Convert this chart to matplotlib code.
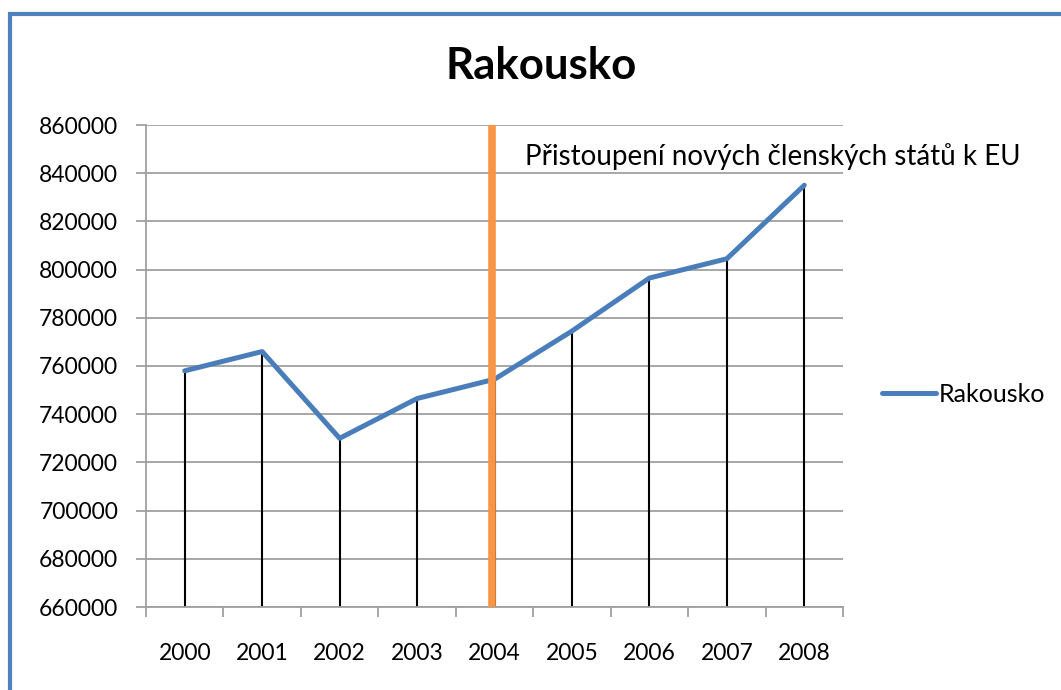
import matplotlib.pyplot as plt
from matplotlib.patches import Rectangle

# data
years = ["2000", "2001", "2002", "2003", "2004", "2005", "2006", "2007", "2008"]
values = [758000, 766000, 730000, 746500, 754500, 774500, 796500, 804500, 835000]
y_ticks = list(range(660000, 860001, 20000))
accession_year = "2004"
note = "Přistoupení nových členských států k EU"

plt.rcParams['font.family'] = ['Lato', 'DejaVu Sans']

blue = '#4A7EBB'
orange = '#F79646'
grid_gray = '#A0A0A0'

fig = plt.figure(figsize=(10.61, 6.90), dpi=100)
ax = fig.add_axes([146 / 1061, 83 / 690, 697 / 1061, 482 / 690])

xs = list(range(len(years)))

# drop lines from each point
ax.vlines(xs, y_ticks[0], values, color='black', linewidth=1.5, zorder=2)

# series line
line, = ax.plot(xs, values, color=blue, linewidth=3.6, solid_capstyle='round',
                solid_joinstyle='round', zorder=3, label="Rakousko")

# accession marker
xa = years.index(accession_year) - 0.03
ax.vlines(xa, y_ticks[0], y_ticks[-1], color=orange, linewidth=5.5, zorder=4)
ax.text(xa + 0.43, 847000, note, fontsize=20, ha='left', va='center', zorder=5)

ax.set_xlim(-0.5, len(years) - 0.5)
ax.set_ylim(y_ticks[0], y_ticks[-1])
ax.set_yticks(y_ticks)
ax.set_yticklabels([str(v) for v in y_ticks])
ax.set_xticks(xs)
ax.set_xticklabels(years)
ax.set_xticks([i - 0.5 for i in range(len(years) + 1)], minor=True)

ax.yaxis.grid(True, color=grid_gray, linewidth=1.3)
ax.set_axisbelow(True)
for s in ['top', 'right']:
    ax.spines[s].set_visible(False)
for s in ['left', 'bottom']:
    ax.spines[s].set_color(grid_gray)
    ax.spines[s].set_linewidth(1.3)

ax.tick_params(axis='y', length=7, width=1.3, color=grid_gray, pad=13, labelsize=16.5)
ax.tick_params(axis='x', which='major', length=0, pad=26, labelsize=16.5)
ax.tick_params(axis='x', which='minor', length=7, width=1.3, color=grid_gray)

fig.text(541 / 1061, 1 - 66 / 690, "Rakousko", fontsize=31.5, fontweight='bold',
         ha='center', va='center')

fig.legend(handles=[line], loc='center left', bbox_to_anchor=(882 / 1061, 1 - 394 / 690),
           frameon=False, fontsize=18, handlelength=2.15, handletextpad=0.12,
           borderpad=0, borderaxespad=0)

# chart area border (cut at the right and bottom)
fig.patches.append(Rectangle((10 / 1061, -0.1), 1.2, 1 - 14 / 690 + 0.1,
                             transform=fig.transFigure, fill=False,
                             edgecolor='#4F81BD', linewidth=3))

fig.savefig("out.png", dpi=100)
